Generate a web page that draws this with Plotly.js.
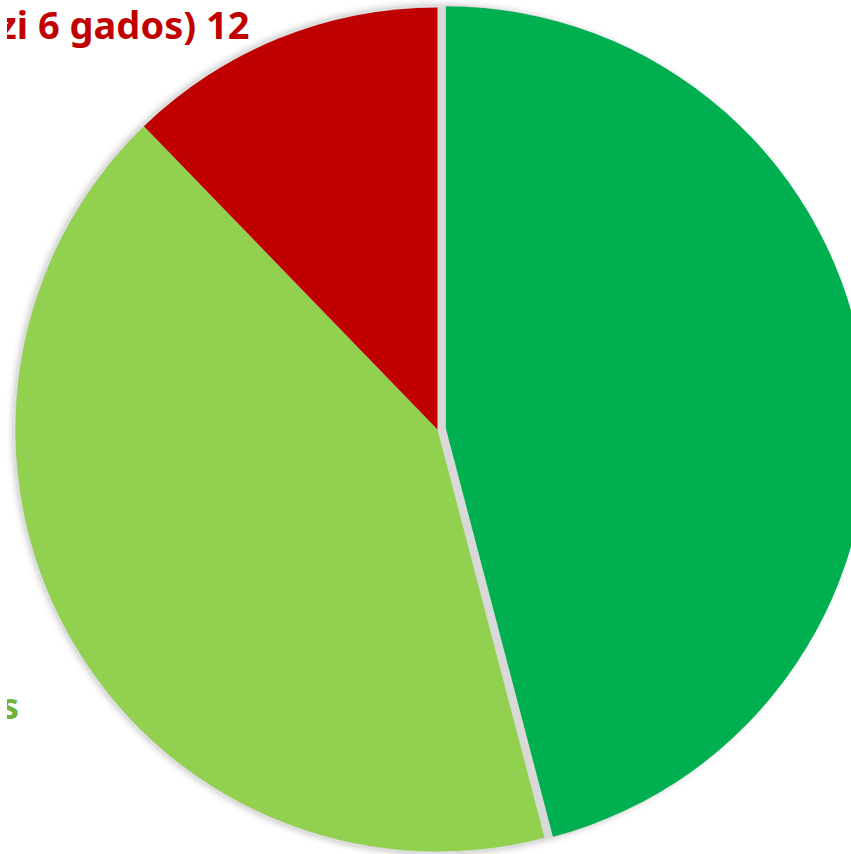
<!DOCTYPE html>
<html><head><meta charset="utf-8">
<script src="https://cdn.plot.ly/plotly-3.0.1.min.js"></script>
<style>
html,body{margin:0;padding:0;width:851px;height:854px;overflow:hidden;background:#ffffff;}
#chart{position:absolute;}
</style></head><body><div id="chart"></div>
<script>
// ---- data ----
const categories = ["Categoria 1", "…s", "…zi 6 gados)"];
const values = [45, 41, 12];
const sliceColors = ["#00B050", "#92D050", "#C00000"];
const labelColors = ["#00B050", "#72B33E", "#C00000"];
const visibleLabels = ["", "s", "zi 6 gados) 12"];
const pulls = [0.02, 0, 0];

// ---- layout geometry ----
const R = 422, CX = 437, CY = 429;
const maxPull = Math.max(...pulls);
const S = 2 * R * (1 + maxPull);
const offL = CX - S / 2, offT = CY - S / 2;
const div = document.getElementById('chart');
div.style.left = offL + 'px';
div.style.top = offT + 'px';
div.style.width = S + 'px';
div.style.height = S + 'px';

const f = (2 * (R + 1)) / S;
const baseTrace = {
  type: 'pie', values: [1], labels: ['base'], sort: false,
  marker: {colors: ['#D9D9D9'], line: {width: 0}},
  textinfo: 'none', hoverinfo: 'skip', showlegend: false,
  domain: {x: [0.5 - f / 2, 0.5 + f / 2], y: [0.5 - f / 2, 0.5 + f / 2]}
};
const dataTrace = {
  type: 'pie', values: values, labels: categories, sort: false,
  direction: 'clockwise', rotation: 0, pull: pulls,
  marker: {colors: sliceColors, line: {width: 0}},
  textinfo: 'none', showlegend: false,
  domain: {x: [0, 1], y: [0, 1]}
};

function px(x) { return (x - offL) / S; }
function py(y) { return 1 - (y - offT) / S; }
const labelPos = [null, [21, 705], [251, 24]];
const labelSize = [38, 36, 38];
const annotations = [];
visibleLabels.forEach((t, i) => {
  if (!t) return;
  annotations.push({
    text: '<b>' + t + '</b>', showarrow: false,
    xref: 'paper', yref: 'paper', x: px(labelPos[i][0]), y: py(labelPos[i][1]),
    xanchor: 'right', yanchor: 'middle',
    font: {family: '"Noto Sans", "Open Sans", sans-serif', size: labelSize[i], color: labelColors[i]}
  });
});

const layout = {
  width: S, height: S, margin: {l: 0, r: 0, t: 0, b: 0},
  paper_bgcolor: 'rgba(0,0,0,0)', plot_bgcolor: 'rgba(0,0,0,0)',
  showlegend: false, annotations: annotations
};

Plotly.newPlot(div, [baseTrace, dataTrace], layout, {displayModeBar: false, staticPlot: true}).then(() => {
  const svg = div.querySelector('svg.main-svg');
  const ns = 'http://www.w3.org/2000/svg';
  let defs = svg.querySelector('defs');
  if (!defs) { defs = document.createElementNS(ns, 'defs'); svg.insertBefore(defs, svg.firstChild); }
  const flt = document.createElementNS(ns, 'filter');
  flt.setAttribute('id', 'pieShadow');
  flt.setAttribute('x', '-10%'); flt.setAttribute('y', '-10%');
  flt.setAttribute('width', '120%'); flt.setAttribute('height', '120%');
  flt.innerHTML = '<feGaussianBlur in="SourceAlpha" stdDeviation="4" result="b"/>' +
    '<feComponentTransfer in="b" result="s"><feFuncA type="linear" slope="0.35"/></feComponentTransfer>' +
    '<feMerge><feMergeNode in="s"/><feMergeNode in="SourceGraphic"/></feMerge>';
  defs.appendChild(flt);
  const traces = svg.querySelectorAll('.pielayer .trace');
  if (traces.length) traces[0].setAttribute('filter', 'url(#pieShadow)');
});
</script></body></html>
